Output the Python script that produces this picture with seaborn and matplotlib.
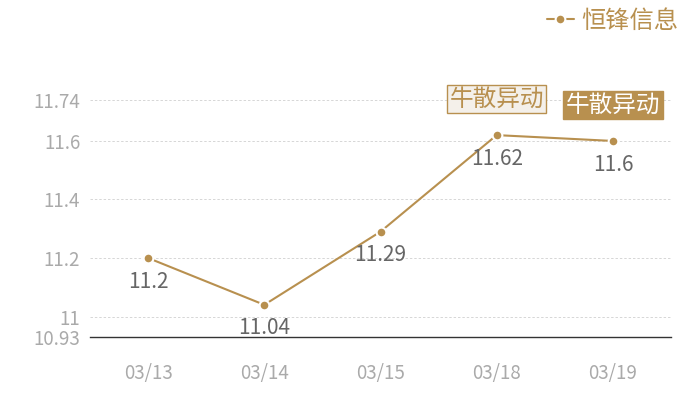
import matplotlib
matplotlib.use("Agg")
import matplotlib.pyplot as plt
import seaborn as sns
import pandas as pd

dates = ["03/13", "03/14", "03/15", "03/18", "03/19"]
prices = [11.2, 11.04, 11.29, 11.62, 11.6]
series_name = "恒锋信息"
yticks = [10.93, 11, 11.2, 11.4, 11.6, 11.74]
ytick_labels = ["10.93", "11", "11.2", "11.4", "11.6", "11.74"]
event_dates = ["03/18", "03/19"]
event_text = "牛散异动"

GOLD = "#B8904F"

sns.set_theme(style="white")
plt.rcParams['font.family'] = ['Noto Sans CJK SC', 'DejaVu Sans']

df = pd.DataFrame({"date": dates, "price": prices})

fig = plt.figure(figsize=(7, 4), dpi=100)
ax = fig.add_axes([90/700, 63/400, 581/700, 237/400])

sns.lineplot(data=df, x="date", y="price", ax=ax, color=GOLD, linewidth=1.5,
             marker="o", markersize=7, markeredgecolor="white", markeredgewidth=1.5,
             label=series_name, legend=False)

ax.set_xlim(-0.5, len(dates) - 0.5)
ax.set_ylim(yticks[0], yticks[-1])
ax.set_yticks(yticks)
ax.set_yticklabels(ytick_labels)
ax.set_xlabel("")
ax.set_ylabel("")

for y in yticks[1:]:
    ax.axhline(y, color="#d6d6d6", linewidth=0.7, linestyle=(0, (2.5, 2)), zorder=0)

for s in ["top", "right", "left"]:
    ax.spines[s].set_visible(False)
ax.spines["bottom"].set_color("#333333")
ax.spines["bottom"].set_linewidth(1)

ax.tick_params(axis="y", length=0, pad=7, labelsize=13.5, labelcolor="#aaaaaa")
ax.tick_params(axis="x", length=0, pad=19, labelsize=13.5, labelcolor="#aaaaaa")

for i, (d, v) in enumerate(zip(dates, prices)):
    ax.annotate(f"{v:g}", (i, v), xytext=(0, -17), textcoords="offset points",
                ha="center", va="center", fontsize=15, color="#666666")

for k, d in enumerate(event_dates):
    i = dates.index(d)
    v = prices[i]
    if k == 0:
        bbox = dict(boxstyle="square,pad=0.1", fc="#F4F0EA", ec=GOLD, lw=1)
        tc = GOLD
    else:
        bbox = dict(boxstyle="square,pad=0.1", fc=GOLD, ec=GOLD, lw=1)
        tc = "white"
    ax.annotate(event_text, (i, v), xytext=(0, 26), textcoords="offset points",
                ha="center", va="center", fontsize=17, color=tc, bbox=bbox,
                annotation_clip=False)

handles, labels = ax.get_legend_handles_labels()
leg = fig.legend(handles, labels, loc="upper right", bbox_to_anchor=(1.0, 1.035),
                 frameon=False, fontsize=17.5, handlelength=1.1, handletextpad=0.3,
                 labelcolor=GOLD)

fig.savefig("out.png", dpi=100)
